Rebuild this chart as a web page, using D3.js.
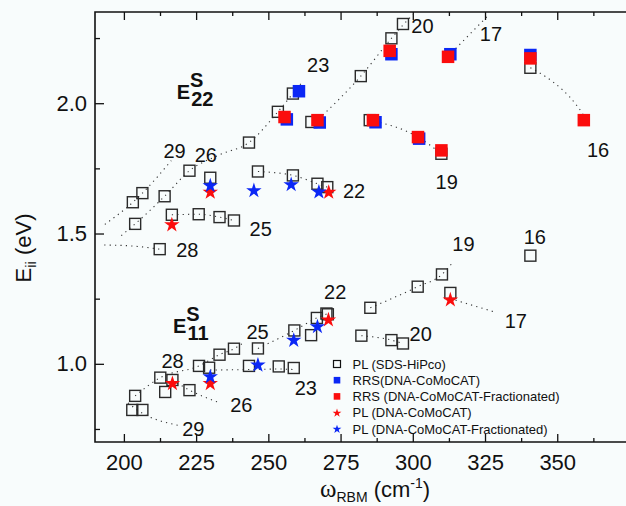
<!DOCTYPE html>
<html>
<head>
<meta charset="utf-8">
<script src="https://cdn.jsdelivr.net/npm/d3@7"></script>
<style>
  body { margin: 0; background: #f8fcfc; }
  svg { display: block; font-family: "Liberation Sans", Arial, Helvetica, sans-serif; }
</style>
</head>
<body>
<div id="chart"></div>
<script>
// axis ticks
const xTicks = [200, 225, 250, 275, 300, 325, 350];
const xMinorTicks = [212.5, 237.5, 262.5, 287.5, 312.5, 337.5, 362.5];
const yTicks = [1.0, 1.5, 2.0];
const yMinorTicks = [0.75, 1.25, 1.75, 2.25];

// PL (SDS-HiPco), [omega, E]
const plHipco = [
  [258.5, 2.037], [253.3, 1.967], [264.9, 1.928], [282.0, 2.104], [243.3, 1.849],
  [222.7, 1.741], [229.9, 1.714], [246.4, 1.738], [258.5, 1.723], [267.0, 1.691],
  [270.4, 1.678], [206.4, 1.655], [203.1, 1.620], [214.1, 1.643], [203.9, 1.537],
  [216.6, 1.572], [225.9, 1.574], [233.1, 1.563], [238.1, 1.550], [212.4, 1.440],
  [296.6, 2.304], [292.6, 2.249], [285.1, 1.935], [309.9, 1.806], [340.7, 2.136],
  [203.9, 0.877], [212.6, 0.947], [214.3, 0.892], [216.8, 0.938], [222.7, 0.899],
  [202.9, 0.823], [206.4, 0.823], [226.0, 0.992], [229.5, 0.985], [233.1, 1.035],
  [238.1, 1.058], [243.3, 0.992], [246.4, 1.059], [253.6, 0.990], [258.8, 0.984],
  [259.0, 1.128], [264.8, 1.110], [266.8, 1.176], [270.1, 1.193], [270.6, 1.190],
  [282.2, 1.108], [292.6, 1.091], [296.6, 1.078], [285.3, 1.215], [301.7, 1.296],
  [310.1, 1.343], [313.0, 1.272], [340.7, 1.415]
];
// RRS (DNA-CoMoCAT)
const rrsComo = [
  [260.6, 2.046], [256.4, 1.938], [267.8, 1.926], [292.6, 2.188], [313.0, 2.188],
  [340.7, 2.185], [287.1, 1.927], [302.2, 1.864]
];
// RRS (DNA-CoMoCAT-Fractionated)
const rrsFrac = [
  [255.6, 1.947], [267.0, 1.935], [292.0, 2.201], [312.2, 2.178], [340.7, 2.172],
  [359.2, 1.935], [286.2, 1.935], [301.8, 1.870], [309.9, 1.819]
];
// PL (DNA-CoMoCAT)
const plComo = [
  [229.9, 1.662], [216.6, 1.537], [270.9, 1.662],
  [216.8, 0.928], [229.9, 0.928], [270.8, 1.172], [313.0, 1.249]
];
// PL (DNA-CoMoCAT-Fractionated)
const plFrac = [
  [229.9, 1.687], [245.0, 1.668], [257.9, 1.691], [267.5, 1.663],
  [229.9, 0.954], [246.4, 0.999], [258.8, 1.094], [267.0, 1.146]
];

// dotted family guides
const guides = [
  [[193.4, 1.535], [203.1, 1.620], [206.4, 1.655], [216.4, 1.780]],
  [[199.1, 1.492], [203.9, 1.537], [214.1, 1.643], [222.7, 1.741], [233.3, 1.803], [243.3, 1.849], [253.3, 1.967], [258.5, 2.037], [262.0, 2.085]],
  [[193.2, 1.456], [203.0, 1.452], [212.4, 1.440]],
  [[216.6, 1.572], [225.9, 1.574], [233.1, 1.563], [238.1, 1.550]],
  [[246.4, 1.738], [258.5, 1.723], [267.0, 1.691], [270.4, 1.678]],
  [[267.5, 1.940], [282.0, 2.104], [292.6, 2.249], [296.6, 2.300], [300.1, 2.340]],
  [[285.1, 1.935], [301.8, 1.870], [309.9, 1.806]],
  [[312.2, 2.180], [326.4, 2.340]],
  [[340.7, 2.136], [348.5, 2.082], [354.3, 2.024], [358.9, 1.960]],
  [[203.9, 0.877], [212.6, 0.947], [226.0, 0.992], [233.1, 1.035], [238.1, 1.058], [242.0, 1.085]],
  [[246.4, 1.059], [259.0, 1.128], [266.8, 1.176], [270.4, 1.192]],
  [[216.8, 0.938], [222.7, 0.899], [232.5, 0.853]],
  [[201.4, 0.850], [204.6, 0.823], [218.7, 0.764]],
  [[229.9, 0.976], [243.3, 0.978], [253.6, 0.980], [258.8, 0.978]],
  [[285.3, 1.215], [301.7, 1.296], [310.1, 1.343], [313.9, 1.390]],
  [[313.0, 1.250], [328.9, 1.197]],
  [[282.2, 1.108], [292.6, 1.091], [296.6, 1.078]]
];

// chirality family numbers, [text, omega, E] (left edge, baseline)
const familyLabels = [
  ["23", 263.4, 2.120], ["20", 299.5, 2.268], ["17", 323.2, 2.240], ["29", 213.7, 1.791],
  ["26", 224.5, 1.774], ["22", 275.8, 1.637], ["25", 243.5, 1.492], ["28", 218.1, 1.409],
  ["19", 307.9, 1.672], ["16", 360.3, 1.793],
  ["16", 338.4, 1.460], ["19", 313.7, 1.432], ["22", 269.3, 1.249], ["25", 242.4, 1.095],
  ["28", 213.0, 0.983], ["23", 259.1, 0.881], ["26", 236.8, 0.817], ["29", 220.2, 0.723],
  ["17", 331.8, 1.137], ["20", 298.9, 1.088]
];
const bandLabels = [["22", 218.3, 2.018], ["11", 217.0, 1.120]];

const legendNames = [
  "PL (SDS-HiPco)", "RRS(DNA-CoMoCAT)", "RRS (DNA-CoMoCAT-Fractionated)",
  "PL (DNA-CoMoCAT)", "PL (DNA-CoMoCAT-Fractionated)"
];

const width = 626, height = 506;
const margin = { top: 12, right: 0, bottom: 64, left: 95 };
const BLUE = "#0b27f5", RED = "#fb0d0d";

const svg = d3.select("#chart").append("svg").attr("width", width).attr("height", height);
svg.append("rect").attr("width", width).attr("height", height).attr("fill", "#f8fcfc");

const x = d3.scaleLinear().domain([190, 373.8]).range([margin.left, width - margin.right]);
const y = d3.scaleLinear().domain([0.7, 2.35]).range([height - margin.bottom, margin.top]);

// axes
const styleAxis = (g) => {
  g.selectAll("line").attr("stroke", "#111").attr("stroke-width", 1.3);
  g.selectAll("text").attr("fill", "#111").attr("font-size", 22).attr("font-family", "Liberation Sans, Arial, sans-serif");
};

svg.append("g")
  .attr("transform", `translate(0,${y.range()[0]})`)
  .call(d3.axisBottom(x).tickValues(xTicks).tickSizeInner(-8).tickSizeOuter(0).tickPadding(12))
  .call((g) => g.select(".domain").remove())
  .call(styleAxis);
svg.append("g")
  .attr("transform", `translate(0,${y.range()[0]})`)
  .call(d3.axisBottom(x).tickValues(xMinorTicks).tickSize(-4).tickFormat(""))
  .call((g) => g.select(".domain").remove())
  .call(styleAxis);
svg.append("g")
  .attr("transform", `translate(0,${margin.top})`)
  .call(d3.axisTop(x).tickValues(xTicks).tickSize(-8).tickFormat(""))
  .call((g) => g.select(".domain").remove())
  .call(styleAxis);
svg.append("g")
  .attr("transform", `translate(0,${margin.top})`)
  .call(d3.axisTop(x).tickValues(xMinorTicks).tickSize(-4).tickFormat(""))
  .call((g) => g.select(".domain").remove())
  .call(styleAxis);
svg.append("g")
  .attr("transform", `translate(${margin.left},0)`)
  .call(d3.axisLeft(y).tickValues(yTicks).tickSizeInner(-9).tickSizeOuter(0).tickPadding(8).tickFormat(d3.format(".1f")))
  .call((g) => g.select(".domain").remove())
  .call(styleAxis);
svg.append("g")
  .attr("transform", `translate(${margin.left},0)`)
  .call(d3.axisLeft(y).tickValues(yMinorTicks).tickSize(-5).tickFormat(""))
  .call((g) => g.select(".domain").remove())
  .call(styleAxis);

// frame (left, top, bottom)
svg.append("path")
  .attr("d", `M${width},${margin.top}H${margin.left}V${y.range()[0]}H${width}`)
  .attr("fill", "none")
  .attr("stroke", "#111")
  .attr("stroke-width", 1.6);

// axis titles
const xTitle = svg.append("text").attr("x", 320).attr("y", 497).attr("fill", "#111").attr("font-size", 22);
xTitle.append("tspan").attr("font-family", "Liberation Serif, Times New Roman, serif").attr("font-size", 25).text("ω");
xTitle.append("tspan").attr("font-size", 14).attr("dy", 5).text("RBM");
xTitle.append("tspan").attr("dy", -5).text(" (cm");
xTitle.append("tspan").attr("font-size", 14).attr("dy", -9).text("-1");
xTitle.append("tspan").attr("dy", 9).text(")");

const yTitle = svg.append("text")
  .attr("transform", "translate(31,248) rotate(-90)")
  .attr("text-anchor", "middle")
  .attr("fill", "#111")
  .attr("font-size", 22);
yTitle.append("tspan").text("E");
yTitle.append("tspan").attr("font-size", 15).attr("dy", 5).text("ii");
yTitle.append("tspan").attr("dy", -5).text(" (eV)");

// guide lines
const line = d3.line().x((d) => x(d[0])).y((d) => y(d[1])).curve(d3.curveMonotoneX);
svg.append("g")
  .selectAll("path")
  .data(guides)
  .join("path")
  .attr("d", line)
  .attr("fill", "none")
  .attr("stroke", "#333")
  .attr("stroke-width", 1.1)
  .attr("stroke-dasharray", "1.2,4.2");

// markers
const openSize = 11, fillSize = 12.5;
svg.append("g")
  .selectAll("rect")
  .data(plHipco)
  .join("rect")
  .attr("x", (d) => x(d[0]) - openSize / 2)
  .attr("y", (d) => y(d[1]) - openSize / 2)
  .attr("width", openSize)
  .attr("height", openSize)
  .attr("fill", "none")
  .attr("stroke", "#2a2a2a")
  .attr("stroke-width", 1.4);

[[rrsComo, BLUE], [rrsFrac, RED]].forEach(([pts, color]) => {
  svg.append("g")
    .selectAll("rect")
    .data(pts)
    .join("rect")
    .attr("x", (d) => x(d[0]) - fillSize / 2)
    .attr("y", (d) => y(d[1]) - fillSize / 2)
    .attr("width", fillSize)
    .attr("height", fillSize)
    .attr("fill", color);
});

const star = d3.symbol(d3.symbolStar).size(74);
[[plComo, RED], [plFrac, BLUE]].forEach(([pts, color]) => {
  svg.append("g")
    .selectAll("path")
    .data(pts)
    .join("path")
    .attr("d", star)
    .attr("transform", (d) => `translate(${x(d[0])},${y(d[1]) + 1})`)
    .attr("fill", color);
});

// family numbers
svg.append("g")
  .selectAll("text")
  .data(familyLabels)
  .join("text")
  .attr("x", (d) => x(d[1]))
  .attr("y", (d) => y(d[2]))
  .attr("fill", "#111")
  .attr("font-size", 20)
  .text((d) => d[0]);

// E^S_22 / E^S_11 as one text each
bandLabels.forEach(([sub, xv, yv]) => {
  const t = svg.append("text")
    .attr("x", x(xv))
    .attr("y", y(yv))
    .attr("font-weight", "bold")
    .attr("font-size", 20)
    .attr("fill", "#111");
  t.append("tspan").text("E");
  t.append("tspan").attr("dy", -11.5).text("S");
  t.append("tspan").attr("x", x(xv) + 14.5).attr("dy", 18.5).text(sub);
});

// legend
const legend = svg.append("g").attr("transform", "translate(337,364)");
const rowH = 16.2;
legendNames.forEach((name, i) => {
  const row = legend.append("g").attr("transform", `translate(0,${i * rowH})`);
  if (i === 0) {
    row.append("rect").attr("x", -3.5).attr("y", -3.5).attr("width", 7).attr("height", 7)
      .attr("fill", "none").attr("stroke", "#111").attr("stroke-width", 1.2);
  } else if (i < 3) {
    row.append("rect").attr("x", -3.3).attr("y", -3.3).attr("width", 6.6).attr("height", 6.6)
      .attr("fill", i === 1 ? BLUE : RED);
  } else {
    row.append("path").attr("d", d3.symbol(d3.symbolStar).size(24)).attr("transform", "translate(0,0.5)")
      .attr("fill", i === 3 ? RED : BLUE);
  }
  row.append("text").attr("x", 15.5).attr("y", 4.7).attr("font-size", 13).attr("fill", "#111").text(name);
});
</script>
</body>
</html>
